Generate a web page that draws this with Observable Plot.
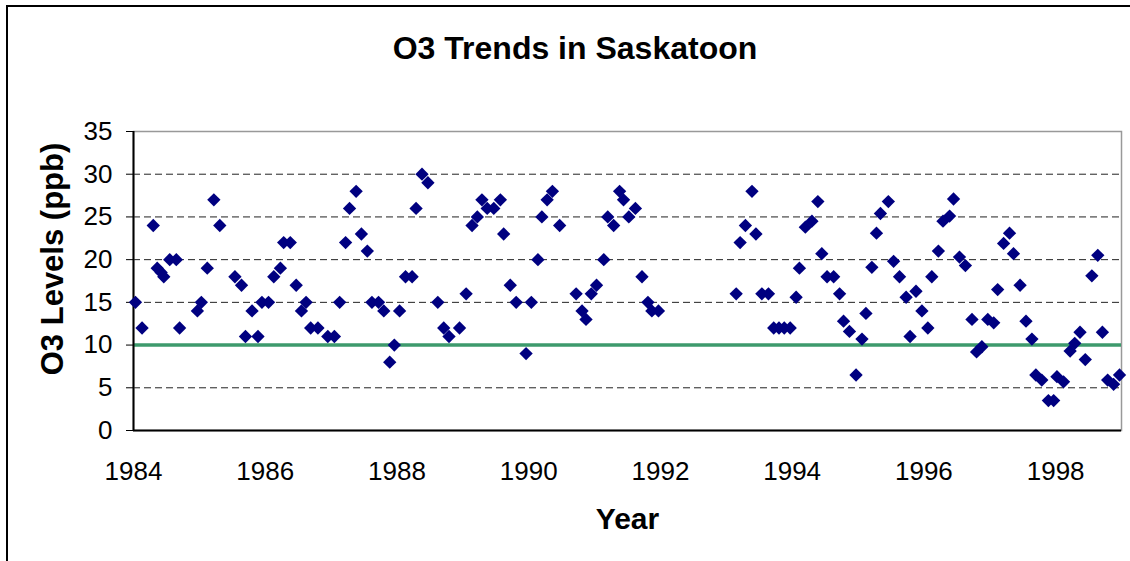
<!DOCTYPE html>
<html><head><meta charset="utf-8">
<script src="https://cdn.jsdelivr.net/npm/d3@7"></script>
<script src="https://cdn.jsdelivr.net/npm/@observablehq/plot@0.6"></script>
<style>
body{margin:0;background:#fff;font-family:"Liberation Sans",Arial,sans-serif;}
#wrap{position:relative;width:1130px;height:561px;overflow:hidden;background:#fff;}
#frame{position:absolute;left:6px;top:5px;width:1200px;height:700px;border-top:2px solid #000;border-left:2px solid #000;}
#title{position:absolute;left:0;top:28px;width:1150px;text-align:center;font-weight:bold;font-size:32px;line-height:40px;color:#000;}
#chart{position:absolute;left:0;top:90px;}
</style></head><body>
<div id="wrap"><div id="frame"></div><div id="title">O3 Trends in Saskatoon</div><div id="chart"></div></div>
<script>
const years = [
  1984.03,1984.13,1984.30,1984.36,1984.42,1984.46,1984.55,1984.65,1984.70,1984.97,
  1985.03,1985.12,1985.22,1985.31,1985.54,1985.64,1985.70,1985.80,1985.89,1985.95,
  1986.05,1986.13,1986.23,1986.28,1986.38,1986.47,1986.55,1986.62,1986.69,1986.80,1986.95,
  1987.05,1987.13,1987.22,1987.28,1987.38,1987.46,1987.55,1987.62,1987.72,1987.80,1987.89,1987.96,
  1988.04,1988.13,1988.23,1988.29,1988.38,1988.47,1988.62,1988.71,1988.79,1988.95,
  1989.05,1989.14,1989.22,1989.29,1989.37,1989.47,1989.57,1989.62,1989.72,1989.81,1989.96,
  1990.04,1990.14,1990.20,1990.28,1990.36,1990.47,1990.72,1990.81,1990.87,1990.95,
  1991.03,1991.14,1991.20,1991.29,1991.38,1991.44,1991.52,1991.62,1991.72,1991.81,1991.87,1991.97,
  1993.15,1993.21,1993.29,1993.39,1993.45,1993.54,1993.64,1993.72,1993.80,1993.88,1993.97,
  1994.06,1994.11,1994.20,1994.30,1994.39,1994.45,1994.53,1994.63,1994.72,1994.78,1994.87,1994.97,
  1995.06,1995.12,1995.21,1995.28,1995.34,1995.46,1995.54,1995.63,1995.73,1995.79,1995.88,1995.97,
  1996.06,1996.12,1996.22,1996.29,1996.39,1996.45,1996.54,1996.63,1996.73,1996.80,1996.88,1996.97,
  1997.06,1997.12,1997.21,1997.30,1997.36,1997.46,1997.55,1997.64,1997.70,1997.79,1997.89,1997.97,
  1998.02,1998.12,1998.22,1998.29,1998.37,1998.45,1998.55,1998.64,1998.71,1998.79,1998.88,1998.97
];
const o3 = [
  15,12,24,19,18.5,18,20,20,12,14,
  15,19,27,24,18,17,11,14,11,15,
  15,18,19,22,22,17,14,15,12,12,11,
  11,15,22,26,28,23,21,15,15,14,8,10,
  14,18,18,26,30,29,15,12,11,12,
  16,24,25,27,26,26,27,23,17,15,9,
  15,20,25,27,28,24,16,14,13,16,
  17,20,25,24,28,27,25,26,18,15,14,14,
  16,22,24,28,23,16,16,12,12,12,12,
  15.6,19,23.8,24.5,26.8,20.7,18,18,16,12.8,11.6,6.5,
  10.7,13.7,19.1,23.1,25.4,26.8,19.8,18,15.6,11,16.3,14,
  12,18,21,24.5,25.1,27.1,20.3,19.3,13,9.2,9.8,13,
  12.6,16.5,21.9,23.1,20.7,17,12.8,10.7,6.5,5.9,3.5,3.5,
  6.3,5.7,9.3,10.2,11.5,8.3,18.1,20.5,11.5,5.9,5.4,6.5
];
const xTicks = [1984,1986,1988,1990,1992,1994,1996,1998];
const yTicks = [0,5,10,15,20,25,30,35];
const gridLevels = [5,15,20,25,30];
const threshold = [10];
const yLabel = "O3 Levels (ppb)";
const xLabel = "Year";

const data = years.map((t,i)=>({year:t, o3:o3[i]}));
const font = '"Liberation Sans", Arial, sans-serif';

const plot = Plot.plot({
  width:1130, height:471,
  marginLeft:133, marginRight:9, marginTop:41, marginBottom:131,
  style:{fontFamily:font, fontSize:"26px", color:"#000", background:"transparent", overflow:"visible"},
  x:{domain:[1984,1999]},
  y:{domain:[0,35]},
  marks:[
    Plot.ruleY(gridLevels, {stroke:"#222", strokeWidth:1, strokeDasharray:"7,4"}),
    Plot.frame({stroke:"#999", strokeWidth:1.5}),
    Plot.ruleY(threshold, {stroke:"#3d9a6c", strokeWidth:3.5}),
    Plot.ruleX([1984], {stroke:"#000", strokeWidth:2}),
    Plot.ruleY([0], {stroke:"#000", strokeWidth:2}),
    Plot.axisY({ticks:yTicks, tickSize:7, tickPadding:14, label:null, fontSize:26}),
    Plot.axisX({ticks:xTicks, tickSize:0, tickPadding:31, tickFormat:d=>String(d), label:null, fontSize:26}),
    Plot.dot(data, {x:"year", y:"o3", symbol:"diamond2", r:6, fill:"#000080", stroke:"none"}),
    Plot.text([yLabel], {frameAnchor:"left", textAnchor:"middle", lineAnchor:"middle", rotate:-90, dx:-80, dy:-22, fontSize:31, fontWeight:"bold", fill:"#000"}),
    Plot.text([xLabel], {frameAnchor:"bottom", lineAnchor:"middle", dy:89, fontSize:30, fontWeight:"bold", fill:"#000"})
  ]
});
document.getElementById("chart").appendChild(plot);
</script>
</body></html>
